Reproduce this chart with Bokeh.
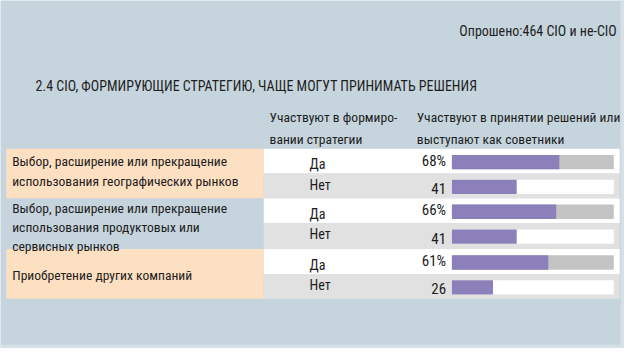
from bokeh.plotting import figure
from bokeh.models import Range1d, ColumnDataSource
from bokeh.core.properties import value
from bokeh.embed import file_html
from bokeh.resources import INLINE

# ---- data ----
survey_note = "Опрошено:464 CIO и не-CIO"
chart_title = "2.4 CIO, ФОРМИРУЮЩИЕ СТРАТЕГИЮ, ЧАЩЕ МОГУТ ПРИНИМАТЬ РЕШЕНИЯ"
col_header_1 = "Участвуют в формиро-\nвании стратегии"
col_header_2 = "Участвуют в принятии решений или\nвыступают как советники"
categories = [
    "Выбор, расширение или прекращение\nиспользования географических рынков",
    "Выбор, расширение или прекращение\nиспользования продуктовых или\nсервисных рынков",
    "Приобретение других компаний",
]
answers = ["Да", "Нет"]
yes_values = [68, 66, 61]
no_values = [41, 41, 26]

# ---- style / layout (in reference 640x364 pixel space) ----
BG = "#c6d4dd"
EDGE = "#d6e0e6"
ORANGE = "#fddfc1"
ROW_GREY = "#e1e1e1"
TRACK_GREY = "#c3c3c3"
PURPLE = "#8b80b9"
TXT = "#1e1e1e"
FONT = "Roboto Condensed"
W, H = 624, 348
REF_W, REF_H = 640, 364
FS = 0.97  # font scale from reference px to figure px
group_tops = [155, 207, 260, 312]
row_h = [26, 26]
bar_x0 = 463
bar_px_per_unit = 1.62
track_x1 = 629

p = figure(width=W, height=H, output_backend="svg", toolbar_location=None,
           x_range=Range1d(0, REF_W), y_range=Range1d(REF_H, 0),
           min_border=0, background_fill_color=BG, border_fill_color=BG,
           outline_line_color=None)
p.axis.visible = False
p.grid.visible = False

# light frame edges at right and bottom
p.quad(left=[636, 0], right=[REF_W, REF_W], top=[0, 360], bottom=[REF_H, REF_H],
       fill_color=EDGE, line_color=None)

# value scale for the bars
p.extra_x_ranges = {"val": Range1d((0 - bar_x0) / bar_px_per_unit,
                                   (REF_W - bar_x0) / bar_px_per_unit)}

# left category cells
left_fill = [ORANGE, BG, ORANGE]
p.quad(left=[6] * 3, right=[270] * 3, top=group_tops[:3],
       bottom=group_tops[1:], fill_color=left_fill, line_color=None)

# right rows
row_tops, row_bots, row_fill, track_fill, row_labels, val_labels, vals = [], [], [], [], [], [], []
for i in range(3):
    t = group_tops[i]
    mid = t + row_h[0]
    for j, a in enumerate(answers):
        top = t if j == 0 else mid
        bot = mid if j == 0 else group_tops[i + 1]
        row_tops.append(top)
        row_bots.append(bot)
        row_fill.append("white" if j == 0 else ROW_GREY)
        track_fill.append(TRACK_GREY if j == 0 else "white")
        row_labels.append(a)
        v = yes_values[i] if j == 0 else no_values[i]
        vals.append(v)
        val_labels.append(f"{v}%" if j == 0 else f"{v}")

p.quad(left=[270] * 6, right=[635] * 6, top=row_tops, bottom=row_bots,
       fill_color=row_fill, line_color=None)
p.quad(left=[bar_x0] * 6, right=[track_x1] * 6,
       top=[t + 6.5 for t in row_tops], bottom=[t + 21.5 for t in row_tops],
       fill_color=track_fill, line_color=None)

src = ColumnDataSource(dict(v=vals, y=[t + 14 for t in row_tops]))
p.hbar(y="y", left=0, right="v", height=15, source=src, x_range_name="val",
       fill_color=PURPLE, line_color=None)

# texts
def txt(x, y, s, align="left", size=14.0, lh=1.2):
    p.text(x=x, y=y, text=s, text_font=value(FONT),
           text_font_size=f"{size * FS:.2f}px", text_color=TXT,
           text_align=align, text_baseline="middle", text_line_height=lh)

txt([632], [32], [survey_note], align="right", size=14.4)
txt([36], [89], [chart_title], size=14.4)
txt([276], [133.5], [col_header_1], size=14, lh=1.36)
txt([427], [133.5], [col_header_2], size=14, lh=1.36)

label_y = [178.3, 237, 286.7]
txt([12] * 3, label_y, categories, size=14, lh=1.21)

ans_y = [t + 13 + (3.5 if i % 2 == 0 else -1.5) for i, t in enumerate(row_tops)]
txt([317] * 6, ans_y, row_labels, size=14.5)
val_y = [t + 13 + (-0.5 if i % 2 == 0 else 2.5) for i, t in enumerate(row_tops)]
txt([457] * 6, val_y, val_labels, align="right", size=15.5)

open("out.html", "w").write(file_html(p, INLINE))
